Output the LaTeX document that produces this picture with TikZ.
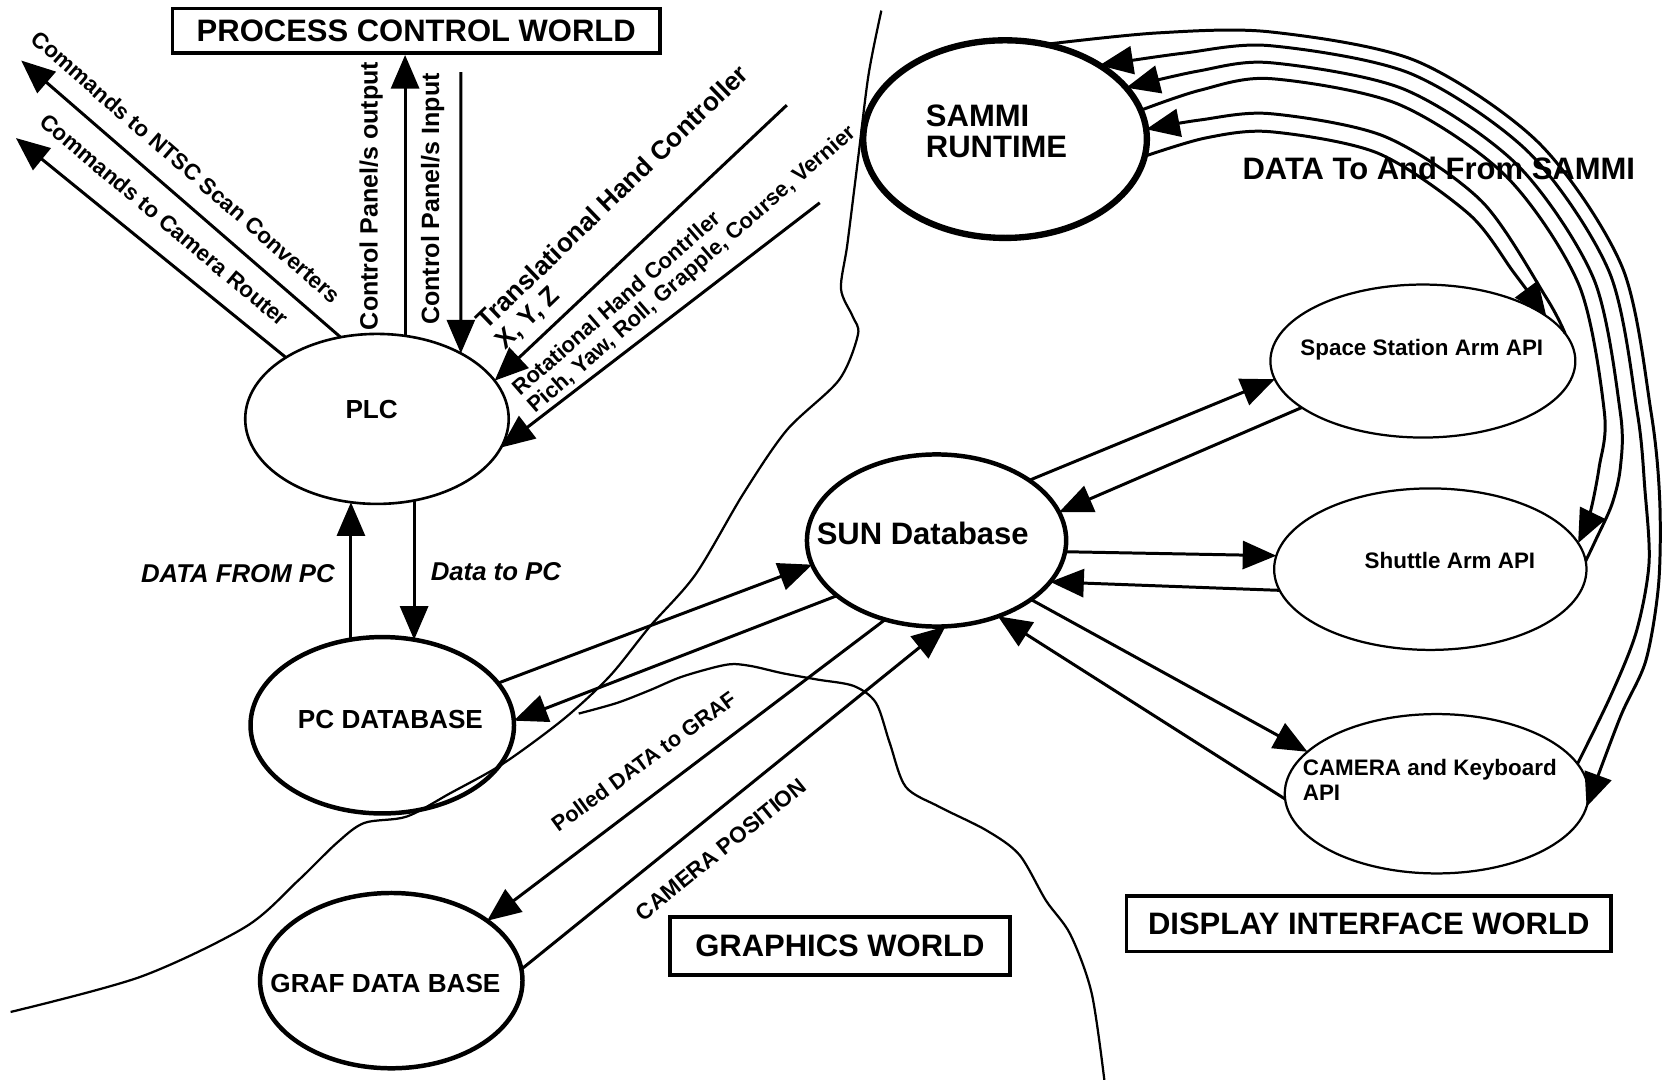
\documentclass[tikz,border=0pt]{standalone}
\usepackage{fontspec}
\setmainfont{Liberation Sans}
\usetikzlibrary{shapes.geometric,arrows.meta,calc}

\begin{document}
\begin{tikzpicture}[x=0.01cm, y=-0.01cm, line width=0.8pt, >={Triangle[length=9pt,width=7.5pt]}]
  \tikzstyle{world}=[draw, rectangle, line width=1pt, inner sep=0pt, font=\bfseries\fontsize{8.3}{9}\selectfont]
  \tikzstyle{blob}=[draw, ellipse, inner sep=0pt, outer sep=0pt, line width=0.7pt]
  \tikzstyle{heavy}=[blob, line width=1.2pt]
  \tikzstyle{bigtxt}=[font=\bfseries\fontsize{8.3}{8.3}\selectfont, inner sep=0pt, align=left]
  \tikzstyle{midtxt}=[font=\bfseries\fontsize{7}{7.4}\selectfont, inner sep=0pt, align=left]
  \tikzstyle{smalltxt}=[font=\bfseries\fontsize{6}{6.5}\selectfont, inner sep=0pt, align=left]
  \tikzstyle{slanttxt}=[font=\bfseries\itshape\fontsize{6.9}{7.4}\selectfont, inner sep=0pt]
  \tikzstyle{edgeline}=[line width=0.6pt]
  \useasboundingbox (0,0) rectangle (1568,1017);

  % the three worlds
  \node[world, minimum width=4.59cm, minimum height=0.42cm] (pcw) at (392,29) {PROCESS CONTROL WORLD};
  \node[world, minimum width=3.2cm, minimum height=0.545cm] (gw) at (791,891) {GRAPHICS WORLD};
  \node[world, minimum width=4.56cm, minimum height=0.52cm] (diw) at (1289,870) {DISPLAY INTERFACE WORLD};

  % boundaries between worlds
  \draw[edgeline] plot[smooth, tension=.5] coordinates {(830,10) (818,70) (808,150) (798,230) (792,272) (803,298) (808,315) (790,358) (741,405) (700,465) (655,541) (612,590) (574,637) (531,677) (474,719) (424,747) (383,769) (343,775) (317,794) (280,830) (231,873) (132,920) (10,953)};
  \draw[edgeline] plot[smooth, tension=.5] coordinates {(545,672) (581,662) (612,650) (643,637) (684,626) (706,627) (737,634) (770,640) (804,646) (825,662) (838,700) (853,741) (885,760) (929,782) (960,805) (985,848) (1008,880) (1028,935) (1040,1017)};

  % data stores
  \node[blob, minimum width=2.48cm, minimum height=1.6cm, label={[midtxt, shift={(-5,-8.5)}]center:PLC}] (plc) at (355,394.5) {};
  \node[heavy, minimum width=2.48cm, minimum height=1.66cm, label={[midtxt, shift={(7.7,-5)}]center:PC DATABASE}] (pcdb) at (360,683) {};
  \node[heavy, minimum width=2.47cm, minimum height=1.65cm, label={[midtxt, shift={(-5.5,2.5)}]center:GRAF DATA BASE}] (graf) at (368.5,923.5) {};
  \node[heavy, minimum width=2.44cm, minimum height=1.62cm, label={[bigtxt, shift={(-13,-7)}]center:SUN Database}] (sun) at (882,509) {};
  \node[blob, line width=1.7pt, minimum width=2.67cm, minimum height=1.86cm, label={[bigtxt, shift={(-8,-7)}]center:SAMMI\\RUNTIME}] (sammi) at (946.5,131) {};
  \node[blob, line width=0.6pt, minimum width=2.87cm, minimum height=1.44cm, label={[smalltxt, shift={(-1,-11)}]center:Space Station Arm API}] (ssa) at (1340,340) {};
  \node[blob, line width=0.6pt, minimum width=2.94cm, minimum height=1.52cm, label={[smalltxt, shift={(18.5,-8)}]center:Shuttle Arm API}] (shuttle) at (1347,536) {};
  \node[blob, line width=0.6pt, minimum width=2.86cm, minimum height=1.5cm, label={[smalltxt, shift={(-6.5,-13)}]center:CAMERA and Keyboard\\API}] (camera) at (1353,747.5) {};

  % loose ends of the PLC signals
  \coordinate (ntscend) at (20,57);
  \coordinate (routerend) at (15,130);
  \coordinate (cpin) at (434,68);
  \coordinate (transin) at (741,99);
  \coordinate (rotin) at (772,191);

  % PLC signals
  \draw[->] (plc.114) -- (ntscend);
  \draw[->] (plc.146) -- (routerend);
  \draw[->] ($(plc.north)+(26.5,1.5)$) -- ($(pcw.south)+(-10.5,0)$);
  \draw[->] (cpin) -- (plc.38);
  \draw[->] (transin) -- (plc.18);
  \draw[->] (rotin) -- (plc.-13);
  \draw[->] ($(pcdb.north)+(-29.5,2.5)$) -- ($(plc.south)+(-24.5,-1.5)$);
  \draw[->] ($(plc.south)+(35,-3.3)$) -- ($(pcdb.north)+(30,2.5)$);

  \node[smalltxt, rotate=-41] (ntsclbl) at (175.5,157) {Commands to NTSC Scan Converters};
  \node[smalltxt, rotate=-40] (routerlbl) at (155,207) {Commands to Camera Router};
  \node[font=\bfseries\fontsize{6.7}{7}\selectfont, inner sep=0pt, rotate=90] (cpoutlbl) at (349.5,184.5) {Control Panel/s output};
  \node[font=\bfseries\fontsize{6.7}{7}\selectfont, inner sep=0pt, rotate=90] (cpinlbl) at (407.5,187.5) {Control Panel/s Input};
  \node[midtxt, rotate=44] (translbl) at (586.5,196) {Translational Hand Controller\\X, Y, Z};
  \node[font=\bfseries\fontsize{5.9}{6.2}\selectfont, inner sep=0pt, align=left, rotate=41] (rotlbl) at (645,246) {Rotational Hand Contrller\\Pich, Yaw, Roll, Grapple, Course, Vernier};
  \node[slanttxt] (fromlbl) at (224,540) {DATA FROM PC};
  \node[slanttxt] (tolbl) at (467,538) {Data to PC};

  % SUN database traffic
  \draw[->] (pcdb.20) -- (sun.191);
  \draw[->] (sun.209) -- (pcdb.2);
  \draw[->] (sun.237) -- (graf.32);
  \draw[->] (graf.5) -- (sun.276);
  \draw[->] (sun.33) -- (ssa.187);
  \draw[->] (ssa.201) -- (sun.13);
  \draw[->] (sun.-5) -- (shuttle.175);
  \draw[->] (shuttle.188) -- (sun.-20);
  \draw[->] (sun.-32) -- (camera.162);
  \draw[->] (camera.182) -- (sun.-51);

  \node[font=\bfseries\fontsize{5.8}{6}\selectfont, inner sep=0pt, rotate=36] (polledlbl) at (606,717) {Polled DATA to GRAF};
  \node[smalltxt, rotate=39] (camposlbl) at (679,800) {CAMERA POSITION};

  % SAMMI traffic
  \draw[->] plot[smooth, tension=.5] coordinates {(sammi.67) (1090,31) (1196,30) (1333.5,57.3) (1449.8,135.2) (1527.7,251.5) (1555,389) (1563,470) (1562,550) (1550,622) (1526,675) (camera.-5)};
  \draw[->] plot[smooth, tension=.5] coordinates {(camera.12) (1517,655) (1541,595) (1553,530) (1549,460) (1542,389) (1515.7,256.5) (1440.6,144.4) (1328.5,69.3) (1196,43) (1115,50) (sammi.38)};
  \draw[->] plot[smooth, tension=.5] coordinates {(shuttle.3) (1503,508) (1518,475) (1526,440) (1526,389) (1500.9,262.6) (1429.3,155.7) (1322.4,84.1) (1196,59) (1128,67) (sammi.23)};
  \draw[->] plot[smooth, tension=.5] coordinates {(sammi.12) (1130,85) (1196,74) (1316.6,98) (1418.7,166.3) (1487,268.4) (1511,389) (1506,440) (1497,485) (shuttle.10)};
  \draw[->] plot[smooth, tension=.5] coordinates {(ssa.11) (1456.6,281) (1395.4,189.6) (1304,128.5) (1196,107) (1130,113) (sammi.4)};
  \draw[->] plot[smooth, tension=.5] coordinates {(sammi.-7) (1135,130) (1196,124) (1297.5,144.2) (1383.4,201.6) (1425.5,256.5) (ssa.20)};

  \node[bigtxt] (sammilbl) at (1355,159) {DATA To And From SAMMI};
\end{tikzpicture}
\end{document}
